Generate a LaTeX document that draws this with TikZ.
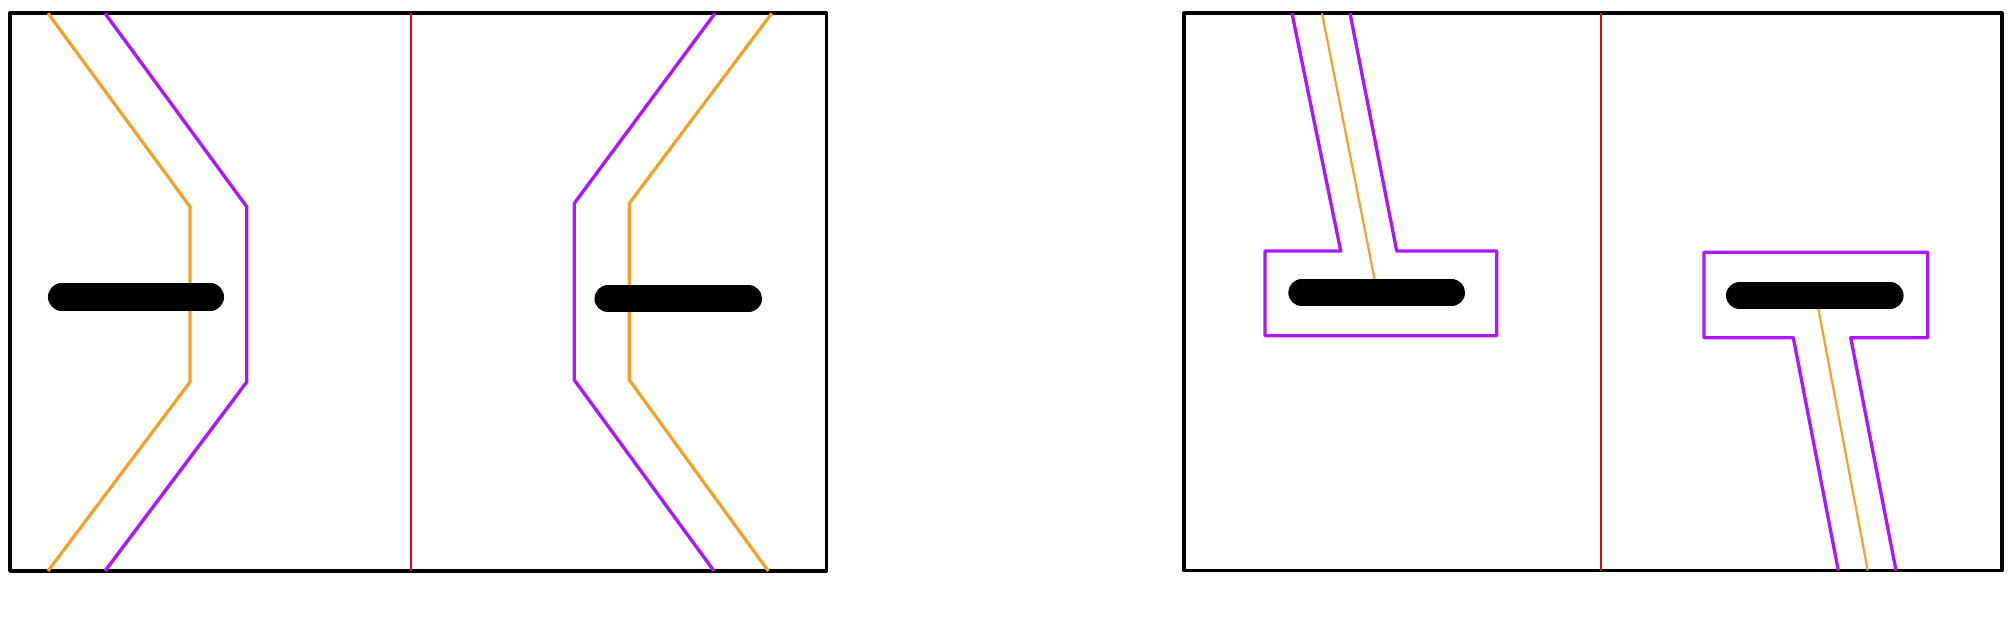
\documentclass[tikz,border=0pt]{standalone}
\definecolor{pur}{RGB}{172,22,255}
\definecolor{ora}{RGB}{247,158,38}
\definecolor{redl}{RGB}{212,12,12}
\tikzset{
  frame/.style={draw=black,line width=1.05pt,line join=round},
  midline/.style={draw=redl,line width=0.65pt},
  wall/.style={draw=pur,line width=0.95pt,line join=round},
  track/.style={draw=ora,line width=0.9pt,line join=round},
  thintrack/.style={draw=ora,line width=0.62pt},
  bar/.style={draw=black,line width=7.7pt,line cap=round}
}
\begin{document}
\begin{tikzpicture}[x=0.01cm,y=-0.01cm]
\useasboundingbox (0,0) rectangle (2013,638);
% ---------- left panel ----------
\draw[frame] (10,13.3) rectangle (826.5,571);
\draw[midline] (411,13.3) -- (411,571);
% left pair
\draw[track] (48,13.3) -- (190,206.7) -- (190,382) -- (48,571);
\draw[wall] (105,13.3) -- (246.7,206.7) -- (246.7,382) -- (105,571);
\draw[bar] (61.5,297) -- (210.5,297);
% right pair
\draw[wall] (715,13.3) -- (574.3,203.3) -- (574.3,380) -- (714,571);
\draw[track] (771.7,13.3) -- (629.3,203.3) -- (629.3,380) -- (768.3,571);
\draw[bar] (608,298.7) -- (748.5,298.7);
% ---------- right panel ----------
\draw[frame] (1184,13.3) rectangle (2001.7,570.5);
\draw[midline] (1600.7,13.3) -- (1600.7,570.5);
% first T
\draw[thintrack] (1322,13.3) -- (1375.7,285);
\draw[wall] (1292,13.3) -- (1340.7,251) -- (1265,251) -- (1265,335.7)
  -- (1496.7,335.7) -- (1496.7,251) -- (1396.7,251) -- (1350,13.3);
\draw[bar] (1301.8,292.7) -- (1451.5,292.7);
% second T
\draw[thintrack] (1816.7,300) -- (1867.7,570.5);
\draw[wall] (1838.3,570.5) -- (1793.3,337.7) -- (1704,337.7) -- (1704,252.3)
  -- (1927.7,252.3) -- (1927.7,337.7) -- (1850.7,337.7) -- (1896,570.5);
\draw[bar] (1739.5,295.5) -- (1890,295.5);
\end{tikzpicture}
\end{document}
